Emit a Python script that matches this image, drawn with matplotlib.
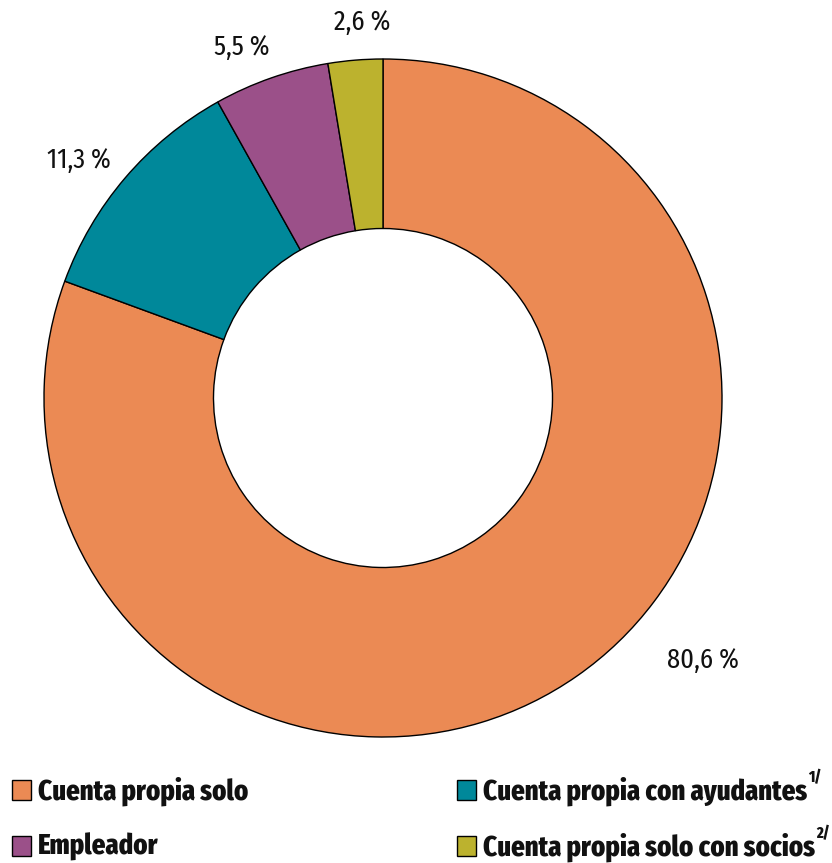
import matplotlib
matplotlib.use("Agg")
import matplotlib.pyplot as plt
from matplotlib.patches import Rectangle
from matplotlib import font_manager as fm

categories = ["Cuenta propia solo", "Cuenta propia con ayudantes", "Empleador", "Cuenta propia solo con socios"]
superscripts = ["", "1/", "", "2/"]
values = [80.6, 11.3, 5.5, 2.6]
value_labels = ["80,6 %", "11,3 %", "5,5 %", "2,6 %"]
colors = ["#EB8A54", "#00889A", "#9B5089", "#BCB22E"]

names = {f.name for f in fm.fontManager.ttflist}
prefs = ["Myriad Pro Condensed", "Fira Sans Extra Condensed", "PT Sans Narrow", "Open Sans Condensed",
         "Fira Sans Condensed", "Roboto Condensed", "Asap Condensed", "Barlow Semi Condensed",
         "Encode Sans Condensed", "DejaVu Sans"]
FONT = next(p for p in prefs if p in names)
plt.rcParams['font.family'] = [FONT, 'DejaVu Sans']
LEG_WEIGHT = 800

W, H = 832, 863
fig = plt.figure(figsize=(W / 100, H / 100), dpi=100)
ax = fig.add_axes([0, 0, 1, 1])

cx, cy, R = 383, 465, 339
ax.pie(values, colors=colors, startangle=90, counterclock=False,
       center=(cx, cy), radius=R, frame=True,
       wedgeprops=dict(width=R * 0.5, edgecolor='black', linewidth=1.0))
ax.set_xlim(0, W)
ax.set_ylim(0, H)
ax.set_aspect('equal')
ax.axis('off')

fig.canvas.draw()
r = fig.canvas.get_renderer()

def width_at(s, size, weight='normal'):
    t = ax.text(0, 0, s, fontsize=size, fontweight=weight)
    w = t.get_window_extent(renderer=r).width
    t.remove()
    return w

# fit sizes to the reference text widths
lab_size = 20 * 72.0 / width_at("80,6 %", 20)
leg_size = 20 * 210.0 / width_at("Cuenta propia solo", 20, LEG_WEIGHT)

label_pos = [(703, 203), (79, 703), (242, 816), (362, 841)]
for (x, y), t in zip(label_pos, value_labels):
    ax.text(x, y, t, ha='center', va='center', fontsize=lab_size, color='#111111')

leg_pos = [(12, 73), (457, 73), (12, 17), (457, 17)]
for i, (x, y) in enumerate(leg_pos):
    ax.add_patch(Rectangle((x, y - 10), 19, 20, facecolor=colors[i], edgecolor='black', linewidth=1.0))
    t = ax.text(x + 26, y - 1, categories[i], ha='left', va='center', fontsize=leg_size,
                fontweight=LEG_WEIGHT, color='#111111')
    if superscripts[i]:
        bb = t.get_window_extent(renderer=r)
        ax.text(bb.x1 + 1, y + 4, superscripts[i], ha='left', va='bottom',
                fontsize=leg_size * 0.55, fontweight=LEG_WEIGHT, color='#111111')

fig.savefig("out.png", dpi=100)
